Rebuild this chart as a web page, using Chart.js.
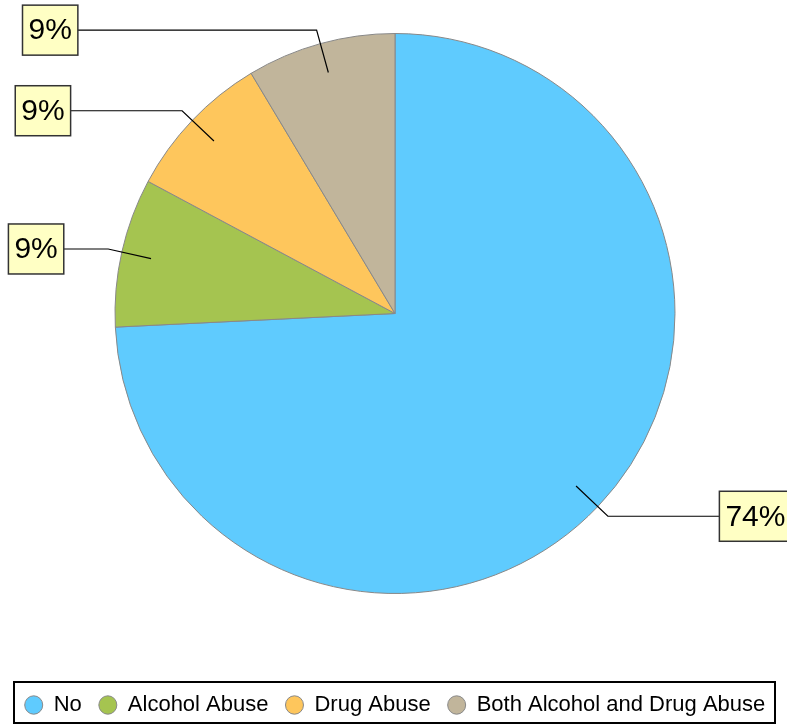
<!DOCTYPE html>
<html>
<head>
<meta charset="utf-8">
<script src="https://cdn.jsdelivr.net/npm/chart.js@4.4.0/dist/chart.umd.min.js"></script>
<style>
  html, body { margin: 0; padding: 0; background: #fff; }
  canvas { display: block; }
</style>
</head>
<body>
<canvas id="myChart" width="787" height="727"></canvas>
<script>
// data
const categories = ['No', 'Alcohol Abuse', 'Drug Abuse', 'Both Alcohol and Drug Abuse'];
const values = [74.3, 8.6, 8.6, 8.6];
const colors = ['#5fcbfe', '#a5c450', '#fec65c', '#c1b59b'];

const FONT = "'Liberation Sans', Arial, Helvetica, sans-serif";

// percent boxes with leader lines
const calloutPlugin = {
    id: 'callouts',
    afterDatasetsDraw(chart) {
        const ctx = chart.ctx;
        const arcs = chart.getDatasetMeta(0).data;
        const total = values.reduce((a, b) => a + b, 0);
        ctx.save();
        ctx.font = '30px ' + FONT;
        arcs.forEach((arc, i) => {
            const mid = (arc.startAngle + arc.endAngle) / 2;
            const r = arc.outerRadius;
            const cos = Math.cos(mid), sin = Math.sin(mid);
            const p1 = {x: arc.x + cos * r * 0.893, y: arc.y + sin * r * 0.893};
            const p2 = {x: arc.x + cos * r * 1.05, y: arc.y + sin * r * 1.05};
            const right = cos >= 0;
            const s = sin * sin;
            const edge = arc.x + (right ? 1 : -1) * (r + 52 - 16 * s);
            const text = Math.round(values[i] / total * 100) + '%';
            const w = ctx.measureText(text).width + 12;
            const h = 50;
            const bx = right ? edge : edge - w;
            const by = p2.y - h / 2;

            ctx.strokeStyle = '#000';
            ctx.lineWidth = 1.2;
            ctx.beginPath();
            ctx.moveTo(p1.x, p1.y);
            ctx.lineTo(p2.x, p2.y);
            ctx.lineTo(edge, p2.y);
            ctx.stroke();

            ctx.fillStyle = '#ffffc4';
            ctx.fillRect(bx, by, w, h);
            ctx.strokeStyle = '#333';
            ctx.lineWidth = 1.5;
            ctx.strokeRect(bx, by, w, h);

            ctx.fillStyle = '#000';
            ctx.textAlign = 'center';
            ctx.textBaseline = 'middle';
            ctx.fillText(text, bx + w / 2, by + h / 2 + 1);
        });
        ctx.restore();
    }
};

// frame round the legend row
const legendFrame = {
    id: 'legendFrame',
    afterDraw(chart) {
        const lg = chart.legend;
        if (!lg || !lg.legendHitBoxes.length) return;
        const hb = lg.legendHitBoxes[0];
        const cy = hb.top + hb.height / 2;
        const ctx = chart.ctx;
        ctx.save();
        ctx.strokeStyle = '#000';
        ctx.lineWidth = 2;
        ctx.strokeRect(lg.left + 11, cy - 23, lg.width - 23, 41);
        ctx.restore();
    }
};

new Chart(document.querySelector('#myChart'), {
    type: 'pie',
    data: {
        labels: categories,
        datasets: [
            {
                data: values,
                backgroundColor: colors,
                borderColor: '#888888',
                borderWidth: 1,
                radius: 280
            }
        ]
    },
    options: {
        responsive: false,
        animation: false,
        layout: {
            padding: {top: 0, left: 3, right: 0, bottom: 1}
        },
        plugins: {
            tooltip: {enabled: false},
            legend: {
                position: 'bottom',
                title: {
                    display: true,
                    text: ' ',
                    padding: {top: 40, bottom: 0},
                    font: {size: 10, lineHeight: 1}
                },
                labels: {
                    usePointStyle: true,
                    pointStyle: 'circle',
                    boxHeight: 13,
                    pointStyleWidth: 18,
                    padding: 17,
                    color: '#000',
                    font: {family: FONT, size: 22}
                }
            }
        }
    },
    plugins: [calloutPlugin, legendFrame]
});
</script>
</body>
</html>
